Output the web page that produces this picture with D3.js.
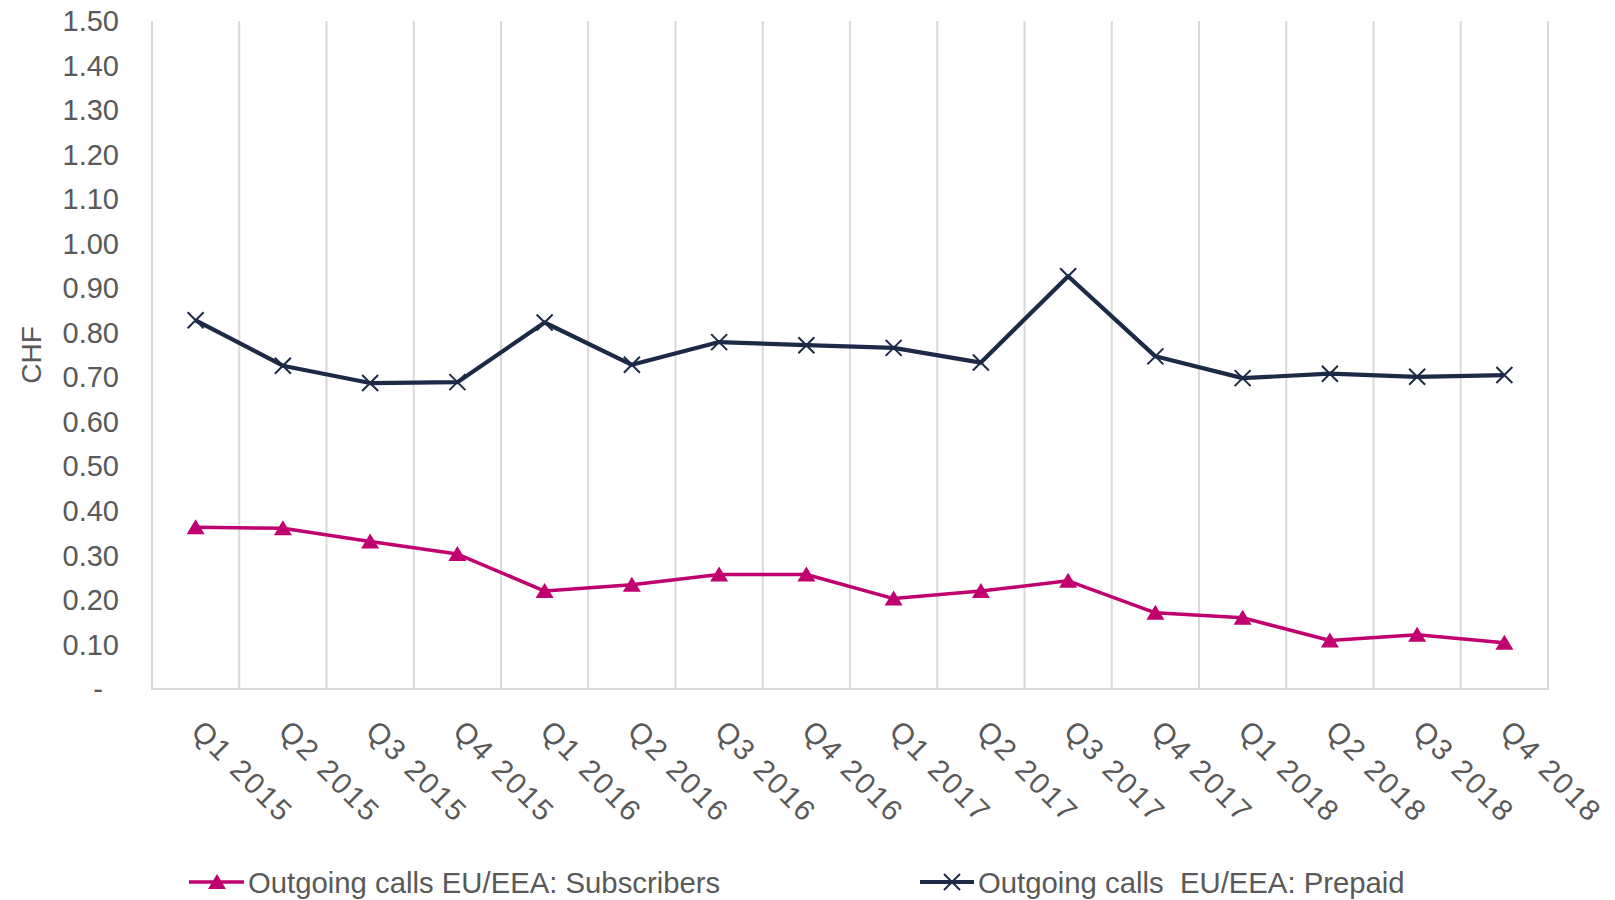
<!DOCTYPE html>
<html>
<head>
<meta charset="utf-8">
<script src="https://cdn.jsdelivr.net/npm/d3@7"></script>
<style>
  html, body { margin: 0; padding: 0; background: #fff; }
  svg text { font-family: "Liberation Sans", Arial, sans-serif; fill: #595959; white-space: pre; }
</style>
</head>
<body>
<svg id="chart" width="1615" height="900"></svg>
<script>
const categories = ["Q1 2015","Q2 2015","Q3 2015","Q4 2015","Q1 2016","Q2 2016","Q3 2016","Q4 2016",
                    "Q1 2017","Q2 2017","Q3 2017","Q4 2017","Q1 2018","Q2 2018","Q3 2018","Q4 2018"];
const subscribers = [0.363,0.361,0.331,0.303,0.220,0.234,0.257,0.257,0.203,0.220,0.243,0.171,0.160,0.109,0.122,0.104];
const prepaid = [0.828,0.726,0.687,0.689,0.823,0.728,0.779,0.772,0.766,0.733,0.927,0.747,0.698,0.708,0.701,0.705];
const yTicks = [0,0.1,0.2,0.3,0.4,0.5,0.6,0.7,0.8,0.9,1.0,1.1,1.2,1.3,1.4,1.5];
const seriesNames = ["Outgoing calls EU/EEA: Subscribers", "Outgoing calls  EU/EEA: Prepaid"];
const yTitle = "CHF";

(function () {
const colSub = "#c0006e";
const colPre = "#1c2a48";
const gridCol = "#d9d9d9";

const svg = d3.select("#chart");
const pLeft = 152, pRight = 1548, pTop = 21, pBottom = 689;

const x = d3.scaleBand().domain(categories).range([pLeft, pRight]).padding(0);
const y = d3.scaleLinear().domain([0, 1.5]).range([pBottom, pTop]);
const cx = c => x(c) + x.bandwidth() / 2;

// vertical gridlines at category boundaries
const bounds = categories.map(c => x(c)).concat([pRight]);
svg.append("g").selectAll("line").data(bounds).join("line")
  .attr("x1", d => d).attr("x2", d => d)
  .attr("y1", pTop).attr("y2", pBottom)
  .attr("stroke", gridCol).attr("stroke-width", 2);

// bottom axis line
svg.append("line").attr("x1", pLeft - 1).attr("x2", pRight + 1)
  .attr("y1", pBottom).attr("y2", pBottom)
  .attr("stroke", gridCol).attr("stroke-width", 2);

// y tick labels
svg.append("g").selectAll("text").data(yTicks).join("text")
  .attr("x", d => d === 0 ? 103 : 119)
  .attr("y", d => y(d))
  .attr("dy", "0.35em")
  .attr("text-anchor", "end")
  .attr("font-size", 29)
  .text(d => d === 0 ? "-" : d3.format(".2f")(d));

// y title
svg.append("text")
  .attr("transform", `translate(41,355) rotate(-90)`)
  .attr("text-anchor", "middle")
  .attr("font-size", 28)
  .text(yTitle);

// x labels rotated 45
svg.append("g").selectAll("text").data(categories).join("text")
  .attr("transform", d => `translate(${cx(d) - 6},${pBottom + 44}) rotate(45)`)
  .attr("text-anchor", "start")
  .attr("font-size", 29.5)
  .attr("letter-spacing", 2.3)
  .text(d => d);

// lines
const line = d3.line().x((d, i) => cx(categories[i])).y(d => y(d));
svg.append("path").datum(prepaid).attr("d", line)
  .attr("fill", "none").attr("stroke", colPre).attr("stroke-width", 4.2).attr("stroke-linejoin", "round");
svg.append("path").datum(subscribers).attr("d", line)
  .attr("fill", "none").attr("stroke", colSub).attr("stroke-width", 3.5).attr("stroke-linejoin", "round");

function triPath(px, py) {
  return `M${px},${py - 8}L${px + 9},${py + 7}L${px - 9},${py + 7}Z`;
}
function xPath(px, py) {
  const s = 8;
  return `M${px - s},${py - s}L${px + s},${py + s}M${px - s},${py + s}L${px + s},${py - s}`;
}

svg.append("g").selectAll("path").data(prepaid).join("path")
  .attr("d", (d, i) => xPath(cx(categories[i]), y(d)))
  .attr("stroke", colPre).attr("stroke-width", 2).attr("fill", "none");
svg.append("g").selectAll("path").data(subscribers).join("path")
  .attr("d", (d, i) => triPath(cx(categories[i]), y(d)))
  .attr("fill", colSub);

// legend
const ly = 882;
const lg = svg.append("g");
lg.append("line").attr("x1", 189).attr("x2", 244).attr("y1", ly).attr("y2", ly)
  .attr("stroke", colSub).attr("stroke-width", 3.5);
lg.append("path").attr("d", triPath(217, ly)).attr("fill", colSub);
lg.append("text").attr("x", 248).attr("y", ly).attr("dy", "0.36em")
  .attr("font-size", 29.3).text(seriesNames[0]);

lg.append("line").attr("x1", 920).attr("x2", 974).attr("y1", ly).attr("y2", ly)
  .attr("stroke", colPre).attr("stroke-width", 4);
lg.append("path").attr("d", xPath(952, ly)).attr("stroke", colPre).attr("stroke-width", 2);
lg.append("text").attr("x", 978).attr("y", ly).attr("dy", "0.36em")
  .attr("font-size", 29.3).text(seriesNames[1]);
})();
</script>
</body>
</html>
